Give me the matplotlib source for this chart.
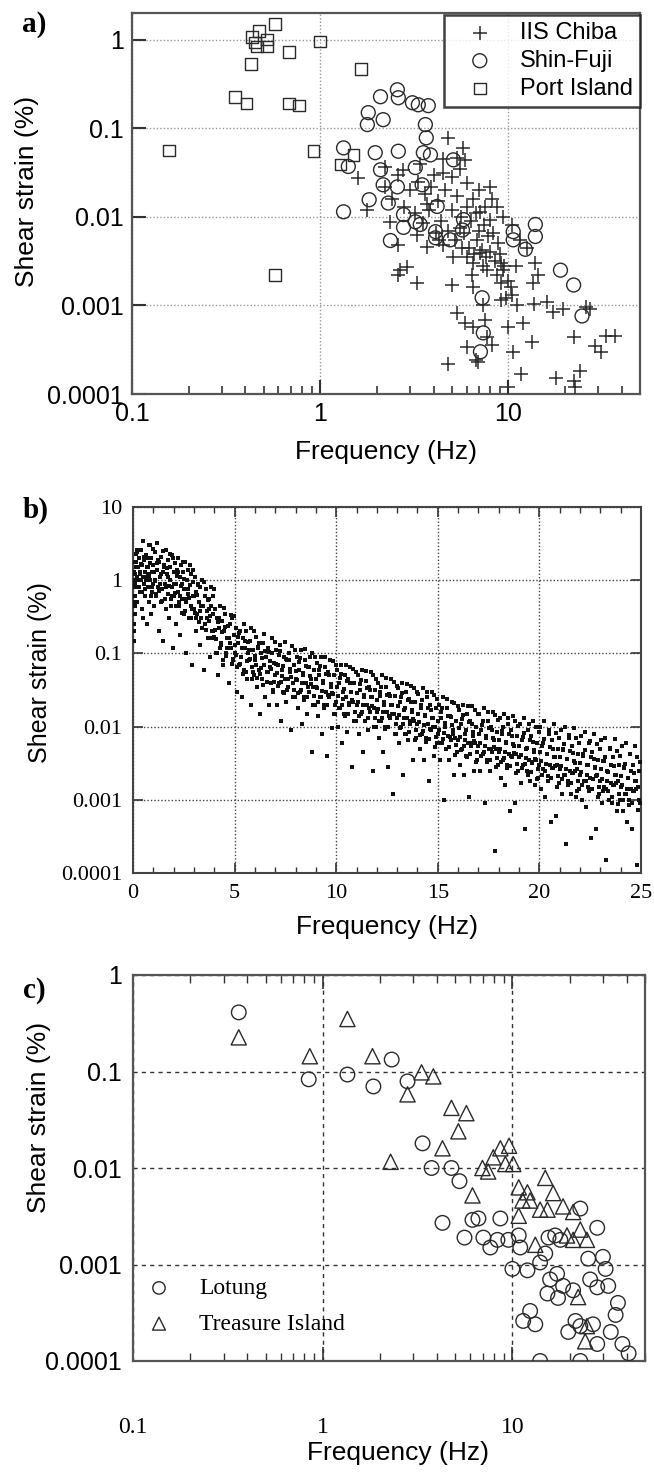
import matplotlib
matplotlib.use("Agg")
import matplotlib.pyplot as plt
from matplotlib.ticker import FixedLocator, NullFormatter, MultipleLocator

# ---------------- data: panel a ----------------
chiba_f = [4.8, 5.77, 5.9, 1.59, 2.22, 2.76, 4.51, 5.35, 8.74, 7.1, 8.0, 1.78, 2.36, 3.28, 3.71,
           2.6, 4.51, 5.1, 6.05, 6.5, 7.1, 7.7, 9.1, 9.4, 2.66, 2.9, 2.6, 3.28, 5.0, 6.4, 6.5,
           9.1, 9.9, 10.3, 7.3, 9.1, 11.1, 13.6, 13.9, 14.4, 17.3, 25.7, 5.35, 5.9, 6.5, 7.55,
           7.7, 8.2, 10.0, 12.0, 10.6, 13.4, 22.2, 29.0, 6.05, 4.8, 6.7, 6.9, 11.6, 17.8, 22.2,
           24.0, 22.7, 9.9,
           3.0, 3.3, 3.6, 3.9, 4.2, 4.6, 5.0, 5.3, 5.6, 6.0, 6.3, 6.7, 7.0, 7.4, 7.8, 8.3, 8.8,
           4.0, 4.4, 4.8, 5.2, 5.8, 6.2, 6.8, 7.2, 7.6, 8.0, 8.5, 9.0, 9.5, 2.4, 2.8, 3.2, 3.5,
           3.8, 4.3, 5.5, 6.5, 7.5, 8.2, 9.3, 10.5, 11.5, 2.2, 2.6, 3.4, 4.5, 5.0, 6.0, 7.0, 8.0,
           5.5, 3.7, 4.1, 5.7, 6.6, 7.3, 8.7, 9.7, 10.5, 12.5, 16.0, 19.5, 13.5, 11.0,
           33.0, 37.0, 31.0, 27.0]
chiba_s = [0.078, 0.060, 0.044, 0.0276, 0.0367, 0.034, 0.031, 0.0465, 0.013, 0.0114, 0.0093,
           0.012, 0.0088, 0.0063, 0.0046, 0.0048, 0.0048, 0.0035, 0.0035, 0.003, 0.0039, 0.0025,
           0.003, 0.0025, 0.0025, 0.0027, 0.0022, 0.0018, 0.0017, 0.0022, 0.0016, 0.0018, 0.0019,
           0.0016, 0.001, 0.00115, 0.001, 0.00105, 0.003, 0.0022, 0.00085, 0.00096, 0.00082,
           0.00063, 0.00057, 0.00068, 0.00044, 0.00036, 0.00057, 0.00063, 0.0003, 0.00039,
           0.00044, 0.00035, 0.00034, 0.00022, 0.00024, 0.00023, 0.00017, 0.00015, 0.00014,
           0.00018, 0.00012, 0.00012,
           0.02, 0.025, 0.018, 0.022, 0.015, 0.02, 0.012, 0.017, 0.01, 0.013, 0.009, 0.011, 0.007,
           0.008, 0.006, 0.0065, 0.005, 0.03, 0.009, 0.007, 0.0055, 0.0065, 0.0045, 0.0055,
           0.0042, 0.0035, 0.004, 0.0032, 0.0038, 0.0028, 0.016, 0.013, 0.011, 0.0085, 0.012,
           0.0055, 0.0075, 0.016, 0.013, 0.016, 0.01, 0.008, 0.0055, 0.022, 0.03, 0.04, 0.045,
           0.028, 0.024, 0.02, 0.022, 0.035, 0.014, 0.0065, 0.0045, 0.0038, 0.0028, 0.0022,
           0.0012, 0.0013, 0.0045, 0.0011, 0.0009, 0.0018, 0.0028,
           0.00045, 0.00045, 0.0003, 0.0009]

fuji_f = [2.57, 2.09, 2.6, 3.09, 3.32, 3.75, 1.8, 2.16, 1.78, 3.62, 3.66, 1.33, 1.96, 2.6, 3.53,
          3.85, 5.1, 1.41, 3.2, 2.09, 1.33, 1.82, 2.3, 2.77, 2.77, 2.36, 3.2, 3.4, 4.1, 4.1, 4.9,
          5.7, 5.77, 4.18, 3.48, 2.57, 2.16, 10.6, 13.9, 13.9, 12.3, 10.6, 18.9, 22.2, 24.6,
          7.25, 7.35, 7.1]
fuji_s = [0.272, 0.227, 0.221, 0.194, 0.184, 0.18, 0.15, 0.125, 0.11, 0.11, 0.078, 0.06, 0.053,
          0.055, 0.053, 0.05, 0.044, 0.037, 0.036, 0.034, 0.0114, 0.0156, 0.0143, 0.0106,
          0.0076, 0.0054, 0.0088, 0.0082, 0.0068, 0.0058, 0.0055, 0.0071, 0.0093, 0.0131,
          0.023, 0.0218, 0.023, 0.0068, 0.0082, 0.006, 0.0043, 0.0055, 0.0025, 0.0017, 0.00076,
          0.00122, 0.00049, 0.0003]

port_f = [0.435, 0.474, 0.576, 0.45, 0.52, 0.52, 0.46, 0.68, 1.0, 0.43, 0.353, 0.405, 0.68,
          0.77, 0.157, 0.92, 0.576, 1.65, 1.28, 1.5]
port_s = [1.08, 1.26, 1.51, 0.93, 1.0, 0.84, 0.84, 0.73, 0.95, 0.53, 0.227, 0.19, 0.19, 0.18,
          0.056, 0.055, 0.0022, 0.47, 0.039, 0.05]

# ---------------- data: panel b ----------------
# scattered points (band plus the sparse low tail)
b_scatter = [
    (0.05, 0.2), (0.08, 0.35), (0.1, 0.6), (0.1, 1.2), (0.12, 0.9), (0.15, 1.8), (0.18, 2.4),
    (0.2, 1.1), (0.22, 0.5), (0.25, 1.5), (0.28, 0.8), (0.3, 2.0), (0.33, 1.3), (0.35, 0.7),
    (0.38, 1.0), (0.4, 2.6), (0.42, 0.4), (0.45, 1.6), (0.48, 1.1), (0.5, 0.3), (0.52, 1.9),
    (0.55, 0.9), (0.58, 1.3), (0.6, 0.6), (0.62, 2.2), (0.65, 1.0), (0.68, 0.25), (0.7, 1.5),
    (0.72, 0.8), (0.75, 1.2), (0.78, 3.0), (0.8, 0.5), (0.82, 1.7), (0.85, 1.0), (0.88, 0.35),
    (0.9, 2.0), (0.92, 0.7), (0.95, 1.3), (0.98, 0.9),
    (0.03, 0.5), (0.04, 1.0), (0.06, 0.15), (0.07, 0.25), (0.09, 0.45), (0.11, 0.8), (0.13, 1.5),
    (1.0, 1.6), (1.03, 0.45), (1.06, 2.4), (1.1, 1.0), (1.13, 0.6), (1.16, 1.4), (1.2, 3.2),
    (1.23, 0.8), (1.26, 0.2), (1.3, 1.8), (1.33, 1.1), (1.36, 0.5), (1.4, 2.1), (1.43, 0.75),
    (1.46, 1.3), (1.5, 0.15), (1.53, 1.6), (1.56, 0.9), (1.6, 2.6), (1.63, 0.4), (1.66, 1.2),
    (1.7, 0.65), (1.73, 1.9), (1.76, 0.3), (1.8, 1.0), (1.83, 1.5), (1.86, 0.55), (1.9, 2.2),
    (1.93, 0.8), (1.96, 0.12), (2.0, 1.3),
    (2.03, 0.6), (2.06, 1.7), (2.1, 0.9), (2.13, 0.25), (2.16, 1.4), (2.2, 0.7), (2.23, 2.0),
    (2.26, 0.45), (2.3, 1.1), (2.33, 0.18), (2.36, 1.6), (2.4, 0.55), (2.43, 0.9), (2.46, 1.3),
    (2.5, 0.35), (2.53, 0.75), (2.56, 1.8), (2.6, 0.5), (2.63, 0.1), (2.66, 1.0), (2.7, 0.65),
    (2.73, 1.4), (2.76, 0.3), (2.8, 0.85), (2.83, 0.45), (2.86, 1.2), (2.9, 0.07), (2.93, 0.6),
    (2.96, 0.95),
    (3.0, 0.4), (3.04, 1.1), (3.08, 0.2), (3.12, 0.7), (3.16, 0.35), (3.2, 0.9), (3.24, 0.5),
    (3.28, 0.13), (3.32, 0.8), (3.36, 0.3), (3.4, 1.0), (3.44, 0.45), (3.48, 0.06), (3.52, 0.6),
    (3.56, 0.25), (3.6, 0.75), (3.64, 0.38), (3.68, 0.16), (3.72, 0.55), (3.76, 0.28),
    (3.8, 0.09), (3.84, 0.45), (3.88, 0.2), (3.92, 0.35), (3.96, 0.6),
    (4.0, 0.17), (4.05, 0.4), (4.1, 0.1), (4.15, 0.3), (4.2, 0.05), (4.25, 0.22), (4.3, 0.45),
    (4.35, 0.13), (4.4, 0.28), (4.45, 0.07), (4.5, 0.2), (4.55, 0.35), (4.6, 0.1), (4.65, 0.16),
    (4.7, 0.04), (4.75, 0.25), (4.8, 0.12), (4.85, 0.3), (4.9, 0.08), (4.95, 0.18),
    (5.0, 0.1), (5.05, 0.22), (5.1, 0.03), (5.15, 0.14), (5.2, 0.07), (5.25, 0.2), (5.3, 0.09),
    (5.35, 0.025), (5.4, 0.16), (5.45, 0.06), (5.5, 0.12), (5.55, 0.2), (5.6, 0.045),
    (5.65, 0.1), (5.7, 0.08), (5.75, 0.15), (5.8, 0.02), (5.85, 0.065), (5.9, 0.11), (5.95, 0.05),
    (6.0, 0.08), (6.05, 0.17), (6.1, 0.035), (6.15, 0.12), (6.2, 0.06), (6.25, 0.015),
    (6.3, 0.1), (6.35, 0.045), (6.4, 0.14), (6.45, 0.07), (6.5, 0.025), (6.55, 0.09),
    (6.6, 0.055), (6.65, 0.12), (6.7, 0.02), (6.75, 0.065), (6.8, 0.04), (6.85, 0.1),
    (6.9, 0.03), (6.95, 0.075),
    (7.0, 0.05), (7.05, 0.11), (7.1, 0.02), (7.15, 0.07), (7.2, 0.04), (7.25, 0.13),
    (7.3, 0.012), (7.35, 0.06), (7.4, 0.03), (7.45, 0.09), (7.5, 0.045), (7.55, 0.022),
    (7.6, 0.08), (7.65, 0.035), (7.7, 0.1), (7.75, 0.055), (7.8, 0.009), (7.85, 0.04),
    (7.9, 0.07), (7.95, 0.025),
    (8.0, 0.045), (8.05, 0.09), (8.1, 0.018), (8.15, 0.06), (8.2, 0.03), (8.25, 0.11),
    (8.3, 0.011), (8.35, 0.05), (8.4, 0.025), (8.45, 0.08), (8.5, 0.04), (8.55, 0.015),
    (8.6, 0.065), (8.65, 0.03), (8.7, 0.09), (8.75, 0.045), (8.8, 0.0045), (8.85, 0.035),
    (8.9, 0.06), (8.95, 0.02),
    (9.0, 0.035), (9.05, 0.075), (9.1, 0.014), (9.15, 0.05), (9.2, 0.025), (9.25, 0.09),
    (9.3, 0.008), (9.35, 0.04), (9.4, 0.02), (9.45, 0.065), (9.5, 0.03), (9.55, 0.004),
    (9.6, 0.055), (9.65, 0.025), (9.7, 0.08), (9.75, 0.035), (9.8, 0.0095), (9.85, 0.028),
    (9.9, 0.05), (9.95, 0.015),
    (10.0, 0.022), (10.05, 0.06), (10.1, 0.01), (10.15, 0.04), (10.2, 0.018), (10.25, 0.07),
    (10.3, 0.006), (10.35, 0.03), (10.4, 0.015), (10.45, 0.05), (10.5, 0.025), (10.55, 0.0085),
    (10.6, 0.045), (10.65, 0.02), (10.7, 0.065), (10.75, 0.03), (10.8, 0.0028), (10.85, 0.022),
    (10.9, 0.04), (10.95, 0.012),
    (11.0, 0.02), (11.05, 0.05), (11.1, 0.008), (11.15, 0.032), (11.2, 0.015), (11.25, 0.06),
    (11.3, 0.0045), (11.35, 0.025), (11.4, 0.012), (11.45, 0.042), (11.5, 0.02), (11.55, 0.009),
    (11.6, 0.035), (11.65, 0.016), (11.7, 0.055), (11.75, 0.025), (11.8, 0.0025),
    (11.85, 0.018), (11.9, 0.032), (11.95, 0.01),
    (12.0, 0.016), (12.05, 0.04), (12.1, 0.007), (12.15, 0.026), (12.2, 0.012), (12.25, 0.05),
    (12.3, 0.0045), (12.35, 0.02), (12.4, 0.01), (12.45, 0.035), (12.5, 0.016), (12.55, 0.0028),
    (12.6, 0.028), (12.65, 0.013), (12.7, 0.045), (12.75, 0.02), (12.8, 0.0012), (12.85, 0.015),
    (12.9, 0.026), (12.95, 0.008),
    (13.0, 0.013), (13.05, 0.034), (13.1, 0.006), (13.15, 0.022), (13.2, 0.01), (13.25, 0.04),
    (13.3, 0.0022), (13.35, 0.017), (13.4, 0.008), (13.45, 0.03), (13.5, 0.013),
    (13.55, 0.0065), (13.6, 0.024), (13.65, 0.011), (13.7, 0.036), (13.75, 0.016),
    (13.8, 0.0035), (13.85, 0.012), (13.9, 0.022), (13.95, 0.007),
    (14.0, 0.011), (14.05, 0.028), (14.1, 0.005), (14.15, 0.018), (14.2, 0.008), (14.25, 0.034),
    (14.3, 0.0035), (14.35, 0.014), (14.4, 0.007), (14.45, 0.025), (14.5, 0.011), (14.55, 0.0018),
    (14.6, 0.02), (14.65, 0.009), (14.7, 0.03), (14.75, 0.013), (14.8, 0.004), (14.85, 0.01),
    (14.9, 0.018), (14.95, 0.006),
    (15.0, 0.008), (15.05, 0.02), (15.1, 0.0035), (15.15, 0.013), (15.2, 0.006), (15.25, 0.025),
    (15.3, 0.001), (15.35, 0.01), (15.4, 0.005), (15.45, 0.018), (15.5, 0.0075), (15.55, 0.0035),
    (15.6, 0.014), (15.65, 0.0065), (15.7, 0.022), (15.75, 0.009), (15.8, 0.0022), (15.85, 0.007),
    (15.9, 0.012), (15.95, 0.0045),
    (16.0, 0.0065), (16.05, 0.017), (16.1, 0.003), (16.15, 0.011), (16.2, 0.005), (16.25, 0.02),
    (16.3, 0.0022), (16.35, 0.008), (16.4, 0.004), (16.45, 0.015), (16.5, 0.006), (16.55, 0.0011),
    (16.6, 0.012), (16.65, 0.0055), (16.7, 0.019), (16.75, 0.0075), (16.8, 0.0025), (16.85, 0.006),
    (16.9, 0.01), (16.95, 0.0035),
    (17.0, 0.0055), (17.05, 0.015), (17.1, 0.0025), (17.15, 0.009), (17.2, 0.0042), (17.25, 0.018),
    (17.3, 0.0009), (17.35, 0.007), (17.4, 0.0035), (17.45, 0.012), (17.5, 0.005), (17.55, 0.0025),
    (17.6, 0.01), (17.65, 0.0045), (17.7, 0.016), (17.75, 0.0065), (17.8, 0.0002), (17.85, 0.005),
    (17.9, 0.0085), (17.95, 0.003),
    (18.0, 0.0045), (18.05, 0.013), (18.1, 0.002), (18.15, 0.008), (18.2, 0.0035), (18.25, 0.015),
    (18.3, 0.0016), (18.35, 0.006), (18.4, 0.003), (18.45, 0.011), (18.5, 0.0042), (18.55, 0.0007),
    (18.6, 0.009), (18.65, 0.0038), (18.7, 0.014), (18.75, 0.0055), (18.8, 0.0009), (18.85, 0.0042),
    (18.9, 0.0075), (18.95, 0.0025),
    (19.0, 0.0038), (19.05, 0.011), (19.1, 0.0017), (19.15, 0.0065), (19.2, 0.003), (19.25, 0.013),
    (19.3, 0.0004), (19.35, 0.005), (19.4, 0.0025), (19.45, 0.009), (19.5, 0.0035), (19.55, 0.0018),
    (19.6, 0.0075), (19.65, 0.0032), (19.7, 0.012), (19.75, 0.0045), (19.8, 0.0016), (19.85, 0.0035),
    (19.9, 0.006), (19.95, 0.002),
    (20.0, 0.003), (20.05, 0.01), (20.1, 0.0014), (20.15, 0.0055), (20.2, 0.0026), (20.25, 0.012),
    (20.3, 0.0011), (20.35, 0.0042), (20.4, 0.0021), (20.45, 0.008), (20.5, 0.003), (20.55, 0.0005),
    (20.6, 0.0065), (20.65, 0.0027), (20.7, 0.011), (20.75, 0.0038), (20.8, 0.0006), (20.85, 0.003),
    (20.9, 0.005), (20.95, 0.0017),
    (21.0, 0.0026), (21.05, 0.009), (21.1, 0.0012), (21.15, 0.0048), (21.2, 0.0022), (21.25, 0.01),
    (21.3, 0.00025), (21.35, 0.0036), (21.4, 0.0018), (21.45, 0.007), (21.5, 0.0025),
    (21.55, 0.0012), (21.6, 0.0055), (21.65, 0.0023), (21.7, 0.0095), (21.75, 0.0032),
    (21.8, 0.0011), (21.85, 0.0026), (21.9, 0.0042), (21.95, 0.0014),
    (22.0, 0.0022), (22.05, 0.0075), (22.1, 0.001), (22.15, 0.004), (22.2, 0.0018), (22.25, 0.0085),
    (22.3, 0.0008), (22.35, 0.003), (22.4, 0.0015), (22.45, 0.006), (22.5, 0.002), (22.55, 0.0003),
    (22.6, 0.0045), (22.65, 0.0019), (22.7, 0.008), (22.75, 0.0027), (22.8, 0.0004), (22.85, 0.0022),
    (22.9, 0.0035), (22.95, 0.0012),
    (23.0, 0.0018), (23.05, 0.0065), (23.1, 0.0009), (23.15, 0.0034), (23.2, 0.0015), (23.25, 0.007),
    (23.3, 0.00015), (23.35, 0.0025), (23.4, 0.0013), (23.45, 0.005), (23.5, 0.0017),
    (23.55, 0.0009), (23.6, 0.0038), (23.65, 0.0016), (23.7, 0.0068), (23.75, 0.0022),
    (23.8, 0.0007), (23.85, 0.0018), (23.9, 0.003), (23.95, 0.001),
    (24.0, 0.0015), (24.05, 0.0055), (24.1, 0.0007), (24.15, 0.0028), (24.2, 0.0012), (24.25, 0.006),
    (24.3, 0.0005), (24.35, 0.002), (24.4, 0.001), (24.45, 0.0042), (24.5, 0.0014),
    (24.55, 0.0004), (24.6, 0.003), (24.65, 0.0013), (24.7, 0.0055), (24.75, 0.0018),
    (24.8, 0.00013), (24.85, 0.0015), (24.9, 0.0025), (24.95, 0.0009),
]

# dense core of the band
b_core = [
    (0.02, 1.8), (0.12, 0.9), (0.22, 2.6), (0.32, 1.2), (0.42, 0.7), (0.52, 2.1), (0.62, 1.1),
    (0.72, 1.5), (0.82, 3.0), (0.92, 0.8), (1.02, 1.3), (1.12, 0.65), (1.22, 1.9), (1.32, 0.9),
    (1.42, 0.52), (1.52, 1.5), (1.62, 0.8), (1.72, 1.1), (1.82, 2.3), (1.92, 0.6), (2.02, 0.88),
    (2.12, 0.44), (2.22, 1.3), (2.32, 0.6), (2.42, 0.36), (2.52, 1.05), (2.62, 0.55), (2.72, 0.77),
    (2.82, 1.6), (2.92, 0.41),
    (0.07, 1.3), (0.17, 2.3), (0.27, 1.0), (0.37, 1.65), (0.47, 3.4), (0.57, 0.77), (0.67, 2.0),
    (0.77, 1.15), (0.87, 0.6), (0.97, 2.7), (1.07, 0.96), (1.17, 1.7), (1.27, 0.72), (1.37, 1.2),
    (1.47, 2.5), (1.57, 0.56), (1.67, 1.45), (1.77, 0.84), (1.87, 0.44), (1.97, 2.0),
    (2.07, 0.66), (2.17, 1.15), (2.27, 0.5), (2.37, 0.83), (2.47, 1.75), (2.57, 0.38),
    (2.67, 1.0), (2.77, 0.58), (2.87, 0.3), (2.97, 1.4),
    (3.02, 0.6), (3.12, 0.3), (3.22, 0.85), (3.32, 0.38), (3.42, 0.22), (3.52, 0.6), (3.62, 0.3),
    (3.72, 0.4), (3.82, 0.8), (3.92, 0.2),
    (4.02, 0.21), (4.12, 0.1), (4.22, 0.3), (4.32, 0.14), (4.42, 0.08), (4.52, 0.23), (4.62, 0.12),
    (4.72, 0.16), (4.82, 0.33), (4.92, 0.085),
    (5.02, 0.13), (5.12, 0.065), (5.22, 0.19), (5.32, 0.088), (5.42, 0.052), (5.52, 0.15),
    (5.62, 0.078), (5.72, 0.11), (5.82, 0.22), (5.92, 0.056),
    (6.02, 0.093), (6.12, 0.046), (6.22, 0.14), (6.32, 0.063), (6.42, 0.037), (6.52, 0.108),
    (6.62, 0.056), (6.72, 0.078), (6.82, 0.16), (6.92, 0.041),
    (7.02, 0.072), (7.12, 0.036), (7.22, 0.108), (7.32, 0.049), (7.42, 0.029), (7.52, 0.084),
    (7.62, 0.044), (7.72, 0.061), (7.82, 0.125), (7.92, 0.032),
    (8.02, 0.058), (8.12, 0.029), (8.22, 0.086), (8.32, 0.039), (8.42, 0.023), (8.52, 0.068),
    (8.62, 0.035), (8.72, 0.049), (8.82, 0.1), (8.92, 0.026),
    (9.02, 0.045), (9.12, 0.022), (9.22, 0.067), (9.32, 0.031), (9.42, 0.018), (9.52, 0.052),
    (9.62, 0.027), (9.72, 0.038), (9.82, 0.079), (9.92, 0.02),
    (10.02, 0.035), (10.12, 0.018), (10.22, 0.053), (10.32, 0.024), (10.42, 0.014),
    (10.52, 0.042), (10.62, 0.021), (10.72, 0.03), (10.82, 0.062), (10.92, 0.016),
    (11.02, 0.029), (11.12, 0.014), (11.22, 0.043), (11.32, 0.02), (11.42, 0.012),
    (11.52, 0.034), (11.62, 0.018), (11.72, 0.025), (11.82, 0.051), (11.92, 0.013),
    (12.02, 0.023), (12.12, 0.012), (12.22, 0.035), (12.32, 0.016), (12.42, 0.0094),
    (12.52, 0.027), (12.62, 0.014), (12.72, 0.02), (12.82, 0.041), (12.92, 0.011),
    (13.02, 0.019), (13.12, 0.0096), (13.22, 0.029), (13.32, 0.013), (13.42, 0.0078),
    (13.52, 0.023), (13.62, 0.012), (13.72, 0.017), (13.82, 0.034), (13.92, 0.009),
    (14.02, 0.015), (14.12, 0.0076), (14.22, 0.023), (14.32, 0.0105), (14.42, 0.0062),
    (14.52, 0.018), (14.62, 0.0093), (14.72, 0.013), (14.82, 0.027), (14.92, 0.0071),
    (15.02, 0.012), (15.12, 0.006), (15.22, 0.018), (15.32, 0.0083), (15.42, 0.0049),
    (15.52, 0.014), (15.62, 0.0073), (15.72, 0.0105), (15.82, 0.021), (15.92, 0.0056),
    (16.02, 0.0096), (16.12, 0.0048), (16.22, 0.0144), (16.32, 0.0066), (16.42, 0.0039),
    (16.52, 0.0114), (16.62, 0.0059), (16.72, 0.0084), (16.82, 0.017), (16.92, 0.0045),
    (17.02, 0.008), (17.12, 0.004), (17.22, 0.012), (17.32, 0.0055), (17.42, 0.0033),
    (17.52, 0.0095), (17.62, 0.0049), (17.72, 0.007), (17.82, 0.0145), (17.92, 0.0037),
    (18.02, 0.0066), (18.12, 0.0033), (18.22, 0.0098), (18.32, 0.0045), (18.42, 0.0027),
    (18.52, 0.0078), (18.62, 0.004), (18.72, 0.0057), (18.82, 0.0119), (18.92, 0.0031),
    (19.02, 0.0054), (19.12, 0.0027), (19.22, 0.0082), (19.32, 0.0037), (19.42, 0.0022),
    (19.52, 0.0065), (19.62, 0.0033), (19.72, 0.0048), (19.82, 0.0099), (19.92, 0.0026),
    (20.02, 0.0045), (20.12, 0.0022), (20.22, 0.0067), (20.32, 0.0031), (20.42, 0.0018),
    (20.52, 0.0053), (20.62, 0.0027), (20.72, 0.0039), (20.82, 0.0081), (20.92, 0.0021),
    (21.02, 0.0038), (21.12, 0.0019), (21.22, 0.0058), (21.32, 0.0026), (21.42, 0.0016),
    (21.52, 0.0046), (21.62, 0.0023), (21.72, 0.0034), (21.82, 0.007), (21.92, 0.0018),
    (22.02, 0.0032), (22.12, 0.0016), (22.22, 0.0048), (22.32, 0.0022), (22.42, 0.0013),
    (22.52, 0.0038), (22.62, 0.0019), (22.72, 0.0028), (22.82, 0.0058), (22.92, 0.0015),
    (23.02, 0.0026), (23.12, 0.0013), (23.22, 0.0038), (23.32, 0.0018), (23.42, 0.001),
    (23.52, 0.003), (23.62, 0.0016), (23.72, 0.0022), (23.82, 0.0046), (23.92, 0.0012),
    (24.02, 0.0021), (24.12, 0.001), (24.22, 0.0031), (24.32, 0.0014), (24.42, 0.00085),
    (24.52, 0.0025), (24.62, 0.0013), (24.72, 0.0018), (24.82, 0.0038), (24.92, 0.00098),
    (3.07, 0.36), (3.17, 0.63), (3.27, 0.27), (3.37, 0.45), (3.47, 0.95), (3.57, 0.21),
    (3.67, 0.54), (3.77, 0.32), (3.87, 0.16), (3.97, 0.75),
    (4.07, 0.156), (4.17, 0.27), (4.27, 0.117), (4.37, 0.195), (4.47, 0.42), (4.57, 0.091),
    (4.67, 0.234), (4.77, 0.137), (4.87, 0.072), (4.97, 0.325),
    (5.07, 0.096), (5.17, 0.168), (5.27, 0.072), (5.37, 0.12), (5.47, 0.256), (5.57, 0.056),
    (5.67, 0.144), (5.77, 0.084), (5.87, 0.044), (5.97, 0.2),
    (6.07, 0.07), (6.17, 0.122), (6.27, 0.052), (6.37, 0.087), (6.47, 0.186), (6.57, 0.041),
    (6.67, 0.104), (6.77, 0.061), (6.87, 0.032), (6.97, 0.145),
    (7.07, 0.054), (7.17, 0.095), (7.27, 0.041), (7.37, 0.068), (7.47, 0.144), (7.57, 0.032),
    (7.67, 0.081), (7.77, 0.047), (7.87, 0.025), (7.97, 0.113),
    (8.07, 0.043), (8.17, 0.076), (8.27, 0.032), (8.37, 0.054), (8.47, 0.115), (8.57, 0.025),
    (8.67, 0.065), (8.77, 0.038), (8.87, 0.02), (8.97, 0.09),
    (9.07, 0.034), (9.17, 0.059), (9.27, 0.025), (9.37, 0.042), (9.47, 0.09), (9.57, 0.02),
    (9.67, 0.05), (9.77, 0.029), (9.87, 0.015), (9.97, 0.07),
    (10.07, 0.026), (10.17, 0.046), (10.27, 0.02), (10.37, 0.033), (10.47, 0.07), (10.57, 0.015),
    (10.67, 0.04), (10.77, 0.023), (10.87, 0.012), (10.97, 0.055),
    (11.07, 0.022), (11.17, 0.038), (11.27, 0.016), (11.37, 0.027), (11.47, 0.058),
    (11.57, 0.013), (11.67, 0.032), (11.77, 0.019), (11.87, 0.0099), (11.97, 0.045),
    (12.07, 0.0174), (12.17, 0.03), (12.27, 0.013), (12.37, 0.022), (12.47, 0.046),
    (12.57, 0.01), (12.67, 0.026), (12.77, 0.015), (12.87, 0.008), (12.97, 0.036),
    (13.07, 0.0144), (13.17, 0.025), (13.27, 0.011), (13.37, 0.018), (13.47, 0.038),
    (13.57, 0.0084), (13.67, 0.022), (13.77, 0.0126), (13.87, 0.0066), (13.97, 0.03),
    (14.07, 0.0114), (14.17, 0.02), (14.27, 0.0086), (14.37, 0.0143), (14.47, 0.03),
    (14.57, 0.0067), (14.67, 0.017), (14.77, 0.01), (14.87, 0.0052), (14.97, 0.024),
    (15.07, 0.009), (15.17, 0.0158), (15.27, 0.0068), (15.37, 0.0113), (15.47, 0.024),
    (15.57, 0.0053), (15.67, 0.0135), (15.77, 0.0079), (15.87, 0.0041), (15.97, 0.019),
    (16.07, 0.0072), (16.17, 0.0126), (16.27, 0.0054), (16.37, 0.009), (16.47, 0.0192),
    (16.57, 0.0042), (16.67, 0.0108), (16.77, 0.0063), (16.87, 0.0033), (16.97, 0.015),
    (17.07, 0.006), (17.17, 0.0105), (17.27, 0.0045), (17.37, 0.0075), (17.47, 0.016),
    (17.57, 0.0035), (17.67, 0.009), (17.77, 0.0053), (17.87, 0.0028), (17.97, 0.0125),
    (18.07, 0.0049), (18.17, 0.0086), (18.27, 0.0037), (18.37, 0.0062), (18.47, 0.0131),
    (18.57, 0.0029), (18.67, 0.0074), (18.77, 0.0043), (18.87, 0.0023), (18.97, 0.0103),
    (19.07, 0.0041), (19.17, 0.0071), (19.27, 0.0031), (19.37, 0.0051), (19.47, 0.0109),
    (19.57, 0.0024), (19.67, 0.0061), (19.77, 0.0036), (19.87, 0.0019), (19.97, 0.0085),
    (20.07, 0.0034), (20.17, 0.0059), (20.27, 0.0025), (20.37, 0.0042), (20.47, 0.009),
    (20.57, 0.002), (20.67, 0.005), (20.77, 0.0029), (20.87, 0.0015), (20.97, 0.007),
    (21.07, 0.0029), (21.17, 0.005), (21.27, 0.0022), (21.37, 0.0036), (21.47, 0.0077),
    (21.57, 0.0017), (21.67, 0.0043), (21.77, 0.0025), (21.87, 0.0013), (21.97, 0.006),
    (22.07, 0.0024), (22.17, 0.0042), (22.27, 0.0018), (22.37, 0.003), (22.47, 0.0064),
    (22.57, 0.0014), (22.67, 0.0036), (22.77, 0.0021), (22.87, 0.0011), (22.97, 0.005),
    (23.07, 0.0019), (23.17, 0.0034), (23.27, 0.0014), (23.37, 0.0024), (23.47, 0.0051),
    (23.57, 0.0011), (23.67, 0.0029), (23.77, 0.0017), (23.87, 0.00088), (23.97, 0.004),
    (24.07, 0.0016), (24.17, 0.0027), (24.27, 0.0012), (24.37, 0.002), (24.47, 0.0042),
    (24.57, 0.00091), (24.67, 0.0023), (24.77, 0.0014), (24.87, 0.00072), (24.97, 0.0033),
]
b_freq = [p[0] for p in b_scatter + b_core]
b_strain = [p[1] for p in b_scatter + b_core]

# ---------------- data: panel c ----------------
lotung_f = [0.361, 0.844, 2.31, 1.35, 1.85, 2.8, 3.36, 3.75, 4.77, 5.26, 4.28, 6.16, 6.62, 8.64,
            5.59, 7.03, 7.65, 8.34, 9.52, 10.8, 11.0, 15.5, 16.8, 17.9, 22.8, 28.0, 25.1, 10.0,
            12.0, 14.0, 14.9, 15.8, 17.2, 15.3, 17.4, 18.5, 20.9, 25.7, 28.0, 12.4, 11.4, 13.2,
            21.5, 19.7, 22.8, 26.6, 28.0, 14.0, 22.8,
            30.0, 32.0, 35.0, 38.0, 41.0, 33.0, 36.0, 31.0]
lotung_s = [0.41, 0.083, 0.133, 0.093, 0.07, 0.079, 0.018, 0.01, 0.01, 0.0073, 0.0027, 0.0029,
            0.003, 0.003, 0.0019, 0.0019, 0.0015, 0.0018, 0.0018, 0.002, 0.0015, 0.0019, 0.002,
            0.0018, 0.0038, 0.0024, 0.00115, 0.0009, 0.00087, 0.00105, 0.0013, 0.0007, 0.0008,
            0.0005, 0.00045, 0.0006, 0.00054, 0.0007, 0.00058, 0.00033, 0.00026, 0.00024,
            0.00026, 0.0002, 0.00023, 0.00024, 0.00015, 0.0001, 0.0001,
            0.0012, 0.0006, 0.0003, 0.00015, 0.00012, 0.0002, 0.0004, 0.0009]

treasure_f = [0.361, 0.855, 1.35, 1.83, 3.32, 3.83, 2.8, 4.77, 5.72, 5.19, 4.28, 2.28, 8.64, 9.6,
              7.93, 9.18, 10.1, 6.95, 7.45, 14.9, 6.16, 10.8, 12.0, 16.4, 11.3, 12.4, 14.0, 15.3,
              18.5, 20.9, 10.8, 13.2, 19.4, 20.9, 22.8, 24.7, 22.2, 24.7, 24.2]
treasure_s = [0.226, 0.144, 0.35, 0.144, 0.098, 0.089, 0.058, 0.042, 0.037, 0.024, 0.016, 0.0116,
              0.016, 0.017, 0.0129, 0.011, 0.011, 0.01, 0.0092, 0.0079, 0.0052, 0.0063, 0.0056,
              0.0055, 0.0046, 0.0046, 0.0037, 0.0037, 0.004, 0.0035, 0.0032, 0.0016, 0.002,
              0.0018, 0.0023, 0.0018, 0.00046, 0.00023, 0.00016]

log_ticks = [1e-4, 1e-3, 1e-2, 1e-1, 1]
log_labels = ["0.0001", "0.001", "0.01", "0.1", "1"]

SANS = "Liberation Sans"
SERIF = "Liberation Serif"
INK = "#2a2a2a"

W, H = 654, 1473
fig = plt.figure(figsize=(W / 100, H / 100), dpi=100)


def box(l, t, r, b):
    return [l / W, 1 - b / H, (r - l) / W, (b - t) / H]


def spines(ax, lw=1.6, color="#555555"):
    for s in ax.spines.values():
        s.set_linewidth(lw)
        s.set_color(color)


# ---------------- panel a ----------------
ax = fig.add_axes(box(132, 13, 640, 394))
ax.set_xscale("log")
ax.set_yscale("log")
ax.set_xlim(0.1, 50)
ax.set_ylim(1e-4, 2.0)
ax.scatter(chiba_f, chiba_s, marker="+", s=110, c=INK, linewidths=1.1, label="IIS Chiba", zorder=3)
ax.scatter(fuji_f, fuji_s, marker="o", s=100, facecolors="none", edgecolors=INK, linewidths=1.0,
           label="Shin-Fuji", zorder=3)
ax.scatter(port_f, port_s, marker="s", s=70, facecolors="none", edgecolors=INK, linewidths=1.0,
           label="Port Island", zorder=3)
ax.set_yticks(log_ticks, labels=log_labels)
ax.set_xticks([0.1, 1, 10], labels=["0.1", "1", "10"])
ax.xaxis.set_minor_locator(FixedLocator([k * d for d in (0.1, 1, 10) for k in range(2, 10)]))
ax.xaxis.set_minor_formatter(NullFormatter())
ax.yaxis.set_minor_locator(FixedLocator([]))
ax.tick_params(which="both", direction="in", top=False, right=False, color="#333333")
ax.tick_params(which="major", length=10, width=1.5, labelsize=18, pad=6)
ax.tick_params(which="minor", length=6, width=1.2)
for t in ax.get_xticklabels() + ax.get_yticklabels():
    t.set_fontfamily(SANS)
ax.grid(True, which="major", ls=(0, (1, 1.5)), color="#999999", lw=1.0)
spines(ax)
leg = ax.legend(loc="upper right", bbox_to_anchor=(1.0, 0.995), frameon=True, fancybox=False,
                edgecolor="#111111", prop={"family": SANS, "size": 17}, borderaxespad=0,
                handletextpad=0.5, labelspacing=0.25, borderpad=0.3, handlelength=2.4)
leg.get_frame().set_linewidth(1.8)
leg.set_zorder(5)
fig.text(386 / W, 1 - 452 / H, "Frequency (Hz)", family=SANS, size=19, ha="center", va="center")
fig.text(27 / W, 1 - 191 / H, "Shear strain (%)", family=SANS, size=19, rotation=90,
         ha="center", va="center")
fig.text(34 / W, 1 - 25 / H, "a)", family=SERIF, weight="bold", size=21, ha="center", va="center")

# ---------------- panel b ----------------
ax = fig.add_axes(box(133, 507, 641, 873))
ax.set_yscale("log")
ax.set_xlim(0, 25)
ax.set_ylim(1e-4, 10)
ax.scatter(b_freq, b_strain, marker="s", s=12, c="#111111", linewidths=0, zorder=3)
ax.set_xticks([0, 5, 10, 15, 20, 25])
ax.xaxis.set_minor_locator(MultipleLocator(1))
ax.set_yticks([1e-4, 1e-3, 1e-2, 1e-1, 1, 10],
              labels=["0.0001", "0.001", "0.01", "0.1", "1", "10"])
ax.yaxis.set_minor_locator(FixedLocator([]))
ax.tick_params(which="both", direction="in", top=True, right=True, color="#333333")
ax.tick_params(which="major", length=7, width=1.2, labelsize=16, pad=8)
ax.tick_params(which="minor", length=4, width=1.0)
for t in ax.get_xticklabels() + ax.get_yticklabels():
    t.set_fontfamily(SERIF)
ax.grid(True, which="major", ls=(0, (1, 1.5)), color="#444444", lw=1.0)
spines(ax, lw=1.5, color="#444444")
fig.text(387 / W, 1 - 927 / H, "Frequency (Hz)", family=SANS, size=19, ha="center", va="center")
fig.text(40 / W, 1 - 673 / H, "Shear strain (%)", family=SANS, size=18, rotation=90,
         ha="center", va="center")
fig.text(36 / W, 1 - 510 / H, "b)", family=SERIF, weight="bold", size=21, ha="center", va="center")

# ---------------- panel c ----------------
ax = fig.add_axes(box(133, 975, 645, 1361))
ax.set_xscale("log")
ax.set_yscale("log")
ax.set_xlim(0.1, 50)
ax.set_ylim(1e-4, 1)
ax.scatter(lotung_f, lotung_s, marker="o", s=110, facecolors="none", edgecolors=INK,
           linewidths=1.0, label="Lotung", zorder=3)
ax.scatter(treasure_f, treasure_s, marker="^", s=120, facecolors="none", edgecolors=INK,
           linewidths=1.0, label="Treasure Island", zorder=3)
ax.set_yticks(log_ticks, labels=log_labels)
ax.set_xticks([0.1, 1, 10], labels=["0.1", "1", "10"])
ax.xaxis.set_minor_locator(FixedLocator([k * d for d in (0.1, 1, 10) for k in range(2, 10)]))
ax.xaxis.set_minor_formatter(NullFormatter())
ax.yaxis.set_minor_locator(FixedLocator([]))
ax.tick_params(which="both", direction="in", top=True, right=False, color="#333333")
ax.tick_params(axis="y", which="major", length=0, labelsize=18, pad=8)
ax.tick_params(axis="x", which="major", length=10, width=1.2, labelsize=17, pad=40)
ax.tick_params(axis="x", which="minor", length=6, width=1.0)
for t in ax.get_yticklabels():
    t.set_fontfamily(SANS)
for t in ax.get_xticklabels():
    t.set_fontfamily(SERIF)
ax.grid(True, which="major", ls=(0, (3, 3)), color="#333333", lw=1.0)
spines(ax, lw=1.6, color="#555555")
ax.legend(loc="lower left", bbox_to_anchor=(0.0, 0.025), frameon=False,
          prop={"family": SERIF, "size": 17}, markerscale=0.85, handletextpad=1.3,
          labelspacing=0.6, borderaxespad=0.3, handlelength=0.8)
fig.text(398 / W, 1 - 1453 / H, "Frequency (Hz)", family=SANS, size=19, ha="center", va="center")
fig.text(39 / W, 1 - 1117 / H, "Shear strain (%)", family=SANS, size=19, rotation=90,
         ha="center", va="center")
fig.text(34 / W, 1 - 991 / H, "c)", family=SERIF, weight="bold", size=21, ha="center", va="center")

fig.savefig("out.png", dpi=100)
